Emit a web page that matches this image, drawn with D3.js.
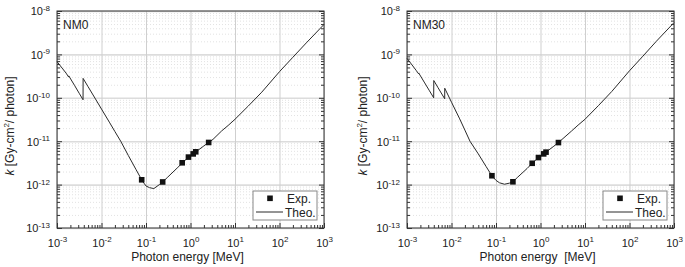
<!DOCTYPE html>
<html>
<head>
<meta charset="utf-8">
<script src="https://cdn.jsdelivr.net/npm/d3@7"></script>
<style>
  body { margin: 0; background: #fff; }
  svg { font-family: "Liberation Sans", Arial, sans-serif; }
</style>
</head>
<body>
<svg id="chart" width="685" height="267"></svg>
<script>
// Axes (décades)
const energyTicks = [1e-3, 1e-2, 1e-1, 1, 1e1, 1e2, 1e3];
const kTicks = [1e-13, 1e-12, 1e-11, 1e-10, 1e-9, 1e-8];

// NM0 - courbe théorique
const nm0TheoE = [0.001, 0.0013, 0.0016, 0.00183, 0.00184, 0.0025, 0.0032, 0.00385, 0.00386, 0.005, 0.0071, 0.01, 0.015, 0.02, 0.027, 0.04, 0.06, 0.08, 0.09, 0.1, 0.12, 0.15, 0.2, 0.237, 0.3, 0.5, 0.662, 0.9, 1.17, 1.33, 2, 2.5, 3.2, 5, 7, 10, 20, 40, 100, 200, 400, 1000];
const nm0TheoK = [6.8e-10, 4.85e-10, 3.7e-10, 3.0e-10, 3.2e-10, 1.9e-10, 1.24e-10, 9e-11, 2.8e-10, 1.8e-10, 9.9e-11, 5.5e-11, 2.75e-11, 1.67e-11, 1.0e-11, 4.7e-12, 2.2e-12, 1.29e-12, 1.08e-12, 9.3e-13, 8.5e-13, 8.1e-13, 1.0e-12, 1.15e-12, 1.45e-12, 2.4e-12, 3.18e-12, 4.3e-12, 5.1e-12, 5.7e-12, 7.8e-12, 9.2e-12, 1.1e-11, 1.72e-11, 2.3e-11, 3.2e-11, 6.5e-11, 1.35e-10, 4.0e-10, 8.6e-10, 1.84e-9, 4.9e-9];
// NM0 - mesures
const nm0ExpE = [0.08, 0.237, 0.65, 0.9, 1.15, 1.31, 2.56];
const nm0ExpK = [1.29e-12, 1.15e-12, 3.18e-12, 4.3e-12, 5.1e-12, 5.7e-12, 9.35e-12];

// NM30 - courbe théorique
const nm30TheoE = [0.001, 0.0013, 0.0016, 0.00183, 0.00184, 0.0025, 0.0032, 0.00398, 0.004, 0.005, 0.00703, 0.00705, 0.01, 0.015, 0.02, 0.026, 0.04, 0.06, 0.081, 0.1, 0.12, 0.155, 0.2, 0.24, 0.3, 0.5, 0.65, 0.9, 1.18, 1.33, 2, 2.53, 5, 7, 10, 20, 40, 100, 200, 400, 1000];
const nm30TheoK = [8.1e-10, 5.7e-10, 4.3e-10, 3.55e-10, 3.7e-10, 2.2e-10, 1.45e-10, 1.0e-10, 2.5e-10, 1.7e-10, 9.5e-11, 1.66e-10, 7.9e-11, 3.4e-11, 1.8e-11, 1.0e-11, 5.1e-12, 2.6e-12, 1.6e-12, 1.25e-12, 1.1e-12, 1.02e-12, 1.08e-12, 1.16e-12, 1.45e-12, 2.35e-12, 3.1e-12, 4.2e-12, 5.1e-12, 5.6e-12, 7.7e-12, 9.3e-12, 1.72e-11, 2.35e-11, 3.2e-11, 6.6e-11, 1.4e-10, 4.2e-10, 9.1e-10, 2.0e-9, 5.4e-9];
// NM30 - mesures
const nm30ExpE = [0.081, 0.24, 0.65, 0.9, 1.18, 1.33, 2.53];
const nm30ExpK = [1.6e-12, 1.16e-12, 3.1e-12, 4.2e-12, 5.1e-12, 5.6e-12, 9.3e-12];

const legendLabels = ['Exp.', 'Theo.'];

// Paramètres de mise en page
const plotTop = 11;
const plotHeight = 217;
const plotWidth = 267;

const panels = [
  { name: 'NM0', left: 57, titleDx: 47, xTitle: 'Photon energy [MeV]',
    theoE: nm0TheoE, theoK: nm0TheoK, expE: nm0ExpE, expK: nm0ExpK },
  { name: 'NM30', left: 407, titleDx: 44, xTitle: 'Photon energy  [MeV]',
    theoE: nm30TheoE, theoK: nm30TheoK, expE: nm30ExpE, expK: nm30ExpK }
];

const svg = d3.select('#chart');
const textColor = '#222';

// Ecrit "10" + exposant dans un élément text
function powLabel(textSel) {
  textSel.each(function (d) {
    const t = d3.select(this);
    t.text(null);
    t.append('tspan').text('10');
    t.append('tspan')
      .attr('dy', '-4.5')
      .attr('font-size', '8px')
      .text(Math.round(Math.log10(d)));
  });
}

function drawPanel(p) {
  const g = svg.append('g').attr('transform', `translate(${p.left},${plotTop})`);

  const x = d3.scaleLog().domain([1e-3, 1e3]).range([0, plotWidth]);
  const y = d3.scaleLog().domain([1e-13, 1e-8]).range([plotHeight, 0]);

  const minorX = x.ticks().filter(v => !energyTicks.some(t => Math.abs(t - v) / t < 1e-6));
  const minorY = y.ticks().filter(v => !kTicks.some(t => Math.abs(t - v) / t < 1e-6));

  // Grille secondaire (horizontale, pointillée)
  g.append('g')
    .call(d3.axisLeft(y).tickValues(minorY).tickSize(-plotWidth).tickFormat(''))
    .call(a => a.select('.domain').remove())
    .selectAll('line')
      .attr('stroke', '#e2e2e2')
      .attr('stroke-dasharray', '1,2');

  // Grille principale
  g.append('g')
    .call(d3.axisLeft(y).tickValues(kTicks).tickSize(-plotWidth).tickFormat(''))
    .call(a => a.select('.domain').remove())
    .selectAll('line')
      .attr('stroke', '#dcdcdc')
      .attr('stroke-width', 1.6);
  g.append('g')
    .attr('transform', `translate(0,${plotHeight})`)
    .call(d3.axisBottom(x).tickValues(energyTicks).tickSize(plotHeight).tickSizeInner(-plotHeight).tickFormat(''))
    .call(a => a.select('.domain').remove())
    .selectAll('line')
      .attr('stroke', '#cfcfcf');

  // Courbe théorique
  const theo = p.theoE.map((e, i) => ({ e: e, k: p.theoK[i] }));
  g.append('path')
    .datum(theo)
    .attr('fill', 'none')
    .attr('stroke', '#2a2a2a')
    .attr('stroke-width', 1)
    .attr('d', d3.line().x(d => x(d.e)).y(d => y(d.k)));

  // Points expérimentaux
  const exp = p.expE.map((e, i) => ({ e: e, k: p.expK[i] }));
  g.append('g')
    .selectAll('rect')
    .data(exp)
    .join('rect')
      .attr('x', d => x(d.e) - 2.8)
      .attr('y', d => y(d.k) - 2.8)
      .attr('width', 5.6)
      .attr('height', 5.6)
      .attr('fill', '#111');

  // Cadre
  g.append('rect')
    .attr('width', plotWidth)
    .attr('height', plotHeight)
    .attr('fill', 'none')
    .attr('stroke', '#333')
    .attr('stroke-width', 1);

  // Axe bas : graduations intérieures
  const xAxisG = g.append('g').attr('transform', `translate(0,${plotHeight})`);
  xAxisG.append('g')
    .call(d3.axisBottom(x).tickValues(minorX).tickSize(-3).tickFormat(''))
    .call(a => a.select('.domain').remove());
  xAxisG.append('g')
    .call(d3.axisBottom(x).tickValues(energyTicks).tickSize(-5).tickPadding(11))
    .call(a => a.select('.domain').remove())
    .call(a => a.selectAll('.tick text')
      .attr('font-size', '11px')
      .attr('font-family', null)
      .attr('fill', textColor)
      .call(powLabel));
  xAxisG.selectAll('line').attr('stroke', '#333');

  // Axe gauche
  const yAxisG = g.append('g');
  yAxisG.append('g')
    .call(d3.axisLeft(y).tickValues(minorY).tickSize(-3).tickFormat(''))
    .call(a => a.select('.domain').remove());
  yAxisG.append('g')
    .call(d3.axisLeft(y).tickValues(kTicks).tickSize(-5).tickPadding(7))
    .call(a => a.select('.domain').remove())
    .call(a => a.selectAll('.tick text')
      .attr('font-size', '11px')
      .attr('font-family', null)
      .attr('fill', textColor)
      .attr('dy', '0.36em')
      .call(powLabel));
  yAxisG.selectAll('line').attr('stroke', '#333');

  // Axe droit (miroir, sans étiquettes)
  const rAxisG = g.append('g').attr('transform', `translate(${plotWidth},0)`);
  rAxisG.append('g')
    .call(d3.axisRight(y).tickValues(minorY).tickSize(-3).tickFormat(''))
    .call(a => a.select('.domain').remove());
  rAxisG.append('g')
    .call(d3.axisRight(y).tickValues(kTicks).tickSize(-5).tickFormat(''))
    .call(a => a.select('.domain').remove());
  rAxisG.selectAll('line').attr('stroke', '#333');

  // Titres des axes
  g.append('text')
    .attr('x', plotWidth / 2 - 3)
    .attr('y', 250)
    .attr('text-anchor', 'middle')
    .attr('font-size', '12px')
    .attr('fill', textColor)
    .style('white-space', 'pre')
    .text(p.xTitle);

  const yt = g.append('text')
    .attr('transform', `translate(${-p.titleDx},${115}) rotate(-90)`)
    .attr('text-anchor', 'middle')
    .attr('dominant-baseline', 'central')
    .attr('font-size', '12px')
    .attr('fill', textColor);
  yt.append('tspan').attr('font-style', 'italic').text('k');
  yt.append('tspan').text(' [Gy-cm');
  yt.append('tspan').attr('dy', '-4').attr('font-size', '8px').text('2');
  yt.append('tspan').attr('dy', '4').text('/ photon]');

  // Nom du panneau
  g.append('text')
    .attr('x', 6)
    .attr('y', 17.5)
    .attr('font-size', '12px')
    .attr('fill', textColor)
    .text(p.name);

  // Légende
  const lg = g.append('g').attr('transform', `translate(${plotWidth - 71},${180})`);
  lg.append('rect')
    .attr('width', 64)
    .attr('height', 29)
    .attr('fill', '#fff')
    .attr('stroke', '#888');
  lg.append('rect')
    .attr('x', 14.2).attr('y', 4.5)
    .attr('width', 5.6).attr('height', 5.6)
    .attr('fill', '#111');
  lg.append('line')
    .attr('x1', 3).attr('x2', 30)
    .attr('y1', 21).attr('y2', 21)
    .attr('stroke', '#2a2a2a');
  lg.selectAll('text.leg')
    .data(legendLabels)
    .join('text')
      .attr('class', 'leg')
      .attr('x', (d, i) => i === 0 ? 34 : 32)
      .attr('y', (d, i) => i === 0 ? 11.5 : 25.5)
      .attr('font-size', '12px')
      .attr('fill', textColor)
      .text(d => d);
}

panels.forEach(drawPanel);
</script>
</body>
</html>
